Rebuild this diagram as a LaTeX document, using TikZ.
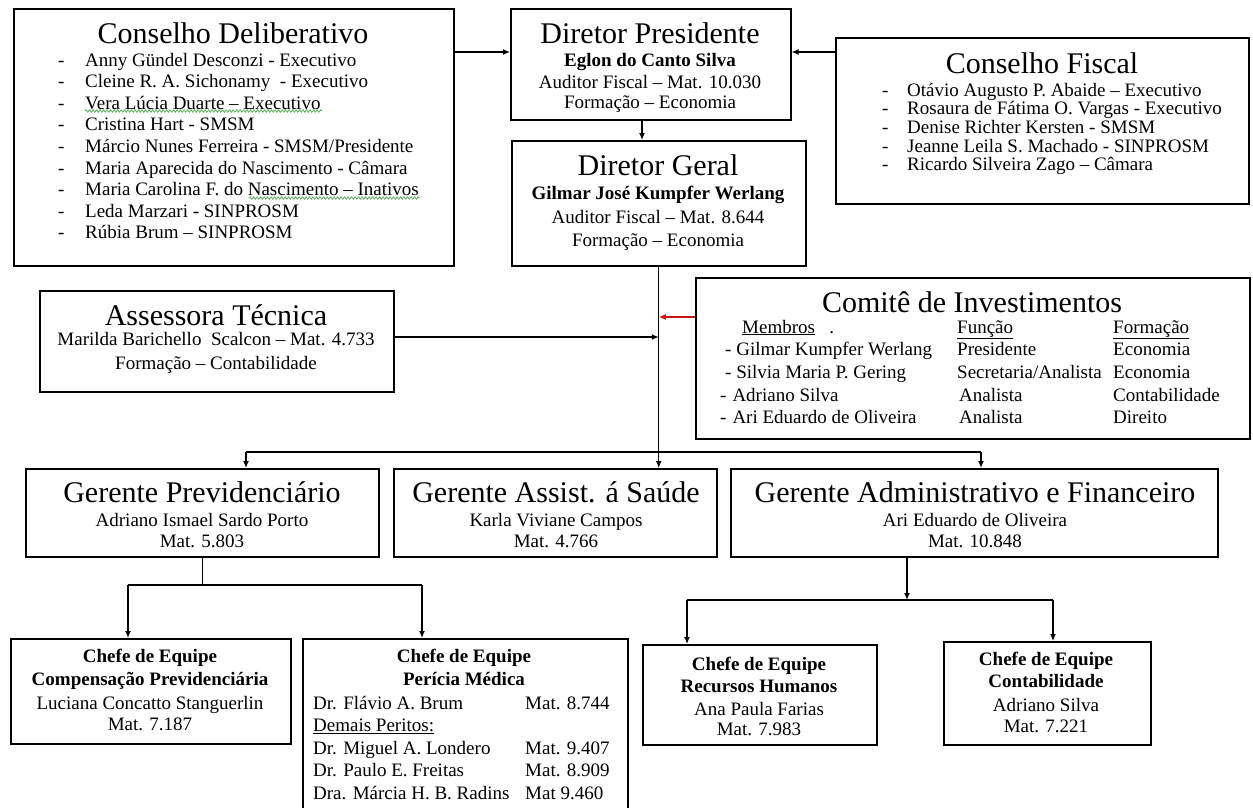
\documentclass[tikz,border=0pt]{standalone}
\usepackage{fontspec}
\setmainfont{Liberation Serif}
\usetikzlibrary{arrows.meta,decorations.pathmorphing}
\definecolor{sq}{RGB}{90,170,90}
\definecolor{redarrow}{RGB}{200,20,20}
\newcommand\fb{\fontsize{19}{21.6}\selectfont}
\newcommand\fbb{\fontsize{19}{21.6}\selectfont\bfseries}
\newcommand\ft{\fontsize{30}{34}\selectfont}
\begin{document}
\begin{tikzpicture}[x=1pt,y=-1pt,
  box/.style={draw, line width=1.5pt, inner sep=0pt, anchor=north west},
  ln/.style={line width=1.3pt},
  arr/.style={ln, -{Latex[length=7pt,width=6pt]}},
  tx/.style={inner sep=0pt, anchor=base},
  lst/.style={inner sep=0pt, anchor=base west, align=left},
  spell/.style={draw=sq, line width=0.8pt, decorate, decoration={snake, amplitude=1.2pt, segment length=3.5pt}}]
\useasboundingbox (0,0) rectangle (1253,807);
\clip (0,0) rectangle (1253,807);
\fill[white] (0,0) rectangle (1253,807);

% ---------- boxes ----------
\node[box, minimum width=440pt, minimum height=257pt] (cd) at (13,8) {};
\node[box, minimum width=280pt, minimum height=111pt] (dp) at (510,8) {};
\node[box, minimum width=413pt, minimum height=166pt] (cf) at (835,37) {};
\node[box, minimum width=294pt, minimum height=125pt] (dg) at (511,140) {};
\node[box, minimum width=354pt, minimum height=101pt] (at) at (39,290) {};
\node[box, minimum width=554pt, minimum height=161pt] (ci) at (695,277) {};
\node[box, minimum width=353pt, minimum height=88pt] (gp) at (25,468) {};
\node[box, minimum width=323pt, minimum height=88pt] (ga) at (393,468) {};
\node[box, minimum width=487pt, minimum height=88pt] (gaf) at (730,468) {};
\node[box, minimum width=280pt, minimum height=105pt] (cc) at (10,638) {};
\node[box, minimum width=325pt, minimum height=202pt] (pm) at (302,638) {};
\node[box, minimum width=234pt, minimum height=100pt] (rh) at (642,644) {};
\node[box, minimum width=207pt, minimum height=103pt] (ct) at (943,641) {};

% ---------- Conselho Deliberativo ----------
\node[tx, font=\ft] (cdt) at (233,43) {Conselho Deliberativo};
\node[lst, font=\fb] (cdl) at (58,66) {\begin{tabular}[t]{@{}p{27pt}@{}l@{}}
-&Anny Gündel Desconzi - Executivo\\
-&Cleine R. A. Sichonamy\ \ - Executivo\\
-&Vera Lúcia Duarte – Executivo\\
-&Cristina Hart - SMSM\\
-&Márcio Nunes Ferreira\ - SMSM/Presidente\\
-&Maria Aparecida do Nascimento - Câmara\\
-&Maria Carolina F. do Nascimento – Inativos\\
-&Leda Marzari - SINPROSM\\
-&Rúbia Brum – SINPROSM
\end{tabular}};
\draw[spell] (85,111) -- (322,111);
\draw[spell] (249,198) -- (420,198);

% ---------- Diretor Presidente ----------
\node[tx, font=\ft] (dp1) at (650,43) {Diretor Presidente};
\node[tx, font=\fbb] (dp2) at (650,66) {Eglon do Canto Silva};
\node[tx, font=\fb] (dp3) at (650,88) {Auditor Fiscal – Mat. 10.030};
\node[tx, font=\fb] (dp4) at (650,108) {Formação – Economia};

% ---------- Diretor Geral ----------
\node[tx, font=\ft] (dg1) at (658,175) {Diretor Geral};
\node[tx, font=\fbb] (dg2) at (658,199) {Gilmar José Kumpfer Werlang};
\node[tx, font=\fb] (dg3) at (658,223) {Auditor Fiscal – Mat. 8.644};
\node[tx, font=\fb] (dg4) at (658,246) {Formação – Economia};

% ---------- Conselho Fiscal ----------
\node[tx, font=\ft] (cft) at (1042,73) {Conselho Fiscal};
\node[lst, font=\fontsize{19}{18.3}\selectfont] (cfl) at (882,96) {\begin{tabular}[t]{@{}p{25pt}@{}l@{}}
-&Otávio Augusto P. Abaide – Executivo\\
-&Rosaura de Fátima O. Vargas - Executivo\\
-&Denise Richter Kersten - SMSM\\
-&Jeanne Leila S. Machado - SINPROSM\\
-&Ricardo Silveira Zago – Câmara
\end{tabular}};

% ---------- Assessora Técnica ----------
\node[tx, font=\ft] (at1) at (216,325) {Assessora Técnica};
\node[tx, font=\fb] (at2) at (216,345) {Marilda Barichello\ \ Scalcon – Mat. 4.733};
\node[tx, font=\fb] (at3) at (216,369) {Formação – Contabilidade};

% ---------- Comitê de Investimentos ----------
\node[tx, font=\ft] (cit) at (972,312) {Comitê de Investimentos};
\node[lst, font=\fontsize{19}{22.7}\selectfont] (cil) at (720,333) {\begin{tabular}[t]{@{}p{237pt}@{}p{156pt}@{}l@{}}
\hspace{22pt}\underline{Membros}\ \ \ . & \underline{Função} & \underline{Formação}\\
\hspace{5pt}- Gilmar Kumpfer Werlang & Presidente & Economia\\
\hspace{5pt}- Silvia Maria P. Gering & Secretaria/Analista & Economia\\
-\hspace{6pt}Adriano Silva & \hspace{2pt}Analista & Contabilidade\\
-\hspace{6pt}Ari Eduardo de Oliveira & \hspace{2pt}Analista & Direito
\end{tabular}};

% ---------- Gerentes ----------
\node[tx, font=\ft] (gp1) at (202,502) {Gerente Previdenciário};
\node[tx, font=\fb] (gp2) at (202,526) {Adriano Ismael Sardo Porto};
\node[tx, font=\fb] (gp3) at (202,547) {Mat. 5.803};
\node[tx, font=\ft] (ga1) at (556,502) {Gerente Assist. á Saúde};
\node[tx, font=\fb] (ga2) at (556,526) {Karla Viviane Campos};
\node[tx, font=\fb] (ga3) at (556,547) {Mat. 4.766};
\node[tx, font=\ft] (gaf1) at (975,502) {Gerente Administrativo e Financeiro};
\node[tx, font=\fb] (gaf2) at (975,526) {Ari Eduardo de Oliveira};
\node[tx, font=\fb] (gaf3) at (975,547) {Mat. 10.848};

% ---------- Chefes ----------
\node[tx, font=\fbb] (cc1) at (150,662) {Chefe de Equipe};
\node[tx, font=\fbb] (cc2) at (150,685) {Compensação Previdenciária};
\node[tx, font=\fb] (cc3) at (150,709) {Luciana Concatto Stanguerlin};
\node[tx, font=\fb] (cc4) at (150,730) {Mat. 7.187};

\node[tx, font=\fbb] (pm1) at (464,662) {Chefe de Equipe};
\node[tx, font=\fbb] (pm2) at (464,685) {Perícia Médica};
\node[lst, font=\fontsize{19}{22.5}\selectfont] (pml) at (313,709) {\begin{tabular}[t]{@{}p{212pt}@{}l@{}}
Dr. Flávio A. Brum & Mat. 8.744\\
\underline{Demais Peritos:} & \\
Dr. Miguel A. Londero & Mat. 9.407\\
Dr. Paulo E. Freitas & Mat. 8.909\\
Dra. Márcia H. B. Radins & Mat 9.460
\end{tabular}};

\node[tx, font=\fbb] (rh1) at (759,670) {Chefe de Equipe};
\node[tx, font=\fbb] (rh2) at (759,692) {Recursos Humanos};
\node[tx, font=\fb] (rh3) at (759,715) {Ana Paula Farias};
\node[tx, font=\fb] (rh4) at (759,735) {Mat. 7.983};

\node[tx, font=\fbb] (ct1) at (1046,665) {Chefe de Equipe};
\node[tx, font=\fbb] (ct2) at (1046,687) {Contabilidade};
\node[tx, font=\fb] (ct3) at (1046,711) {Adriano Silva};
\node[tx, font=\fb] (ct4) at (1046,732) {Mat. 7.221};

% ---------- connectors ----------
\draw[arr] (cd.north east |- 0,52) -- (dp.north west |- 0,52);
\draw[arr] (cf.north west |- 0,52) -- (dp.north east |- 0,52);
\draw[arr] (dp.south -| 642,0) -- (dg.north -| 642,0);
\draw[arr] (dg.south) -- (dg.south |- ga.north);
\draw[arr] (at.east |- 0,337) -- (dg.south |- 0,337);
\draw[arr, draw=redarrow, -{Latex[length=7pt,width=6pt,fill=redarrow]}] (ci.west |- 0,317) -- (dg.south |- 0,317);

\coordinate (jL) at (246,452);
\coordinate (jR) at (981,452);
\draw[ln] (jL) -- (jR);
\draw[arr] (jL) -- (jL |- gp.north);
\draw[arr] (jR) -- (jR |- gaf.north);

\coordinate (pL) at (128,585);
\coordinate (pR) at (422,585);
\draw[ln] (gp.south) -- (gp.south |- pL);
\draw[ln] (pL) -- (pR);
\draw[arr] (pL) -- (pL |- cc.north);
\draw[arr] (pR) -- (pR |- pm.north);

\coordinate (aL) at (687,600);
\coordinate (aR) at (1053,600);
\draw[arr] (gaf.south -| 907,0) -- (907,600);
\draw[ln] (aL) -- (aR);
\draw[arr] (aL) -- (aL |- rh.north);
\draw[arr] (aR) -- (aR |- ct.north);
\end{tikzpicture}
\end{document}
